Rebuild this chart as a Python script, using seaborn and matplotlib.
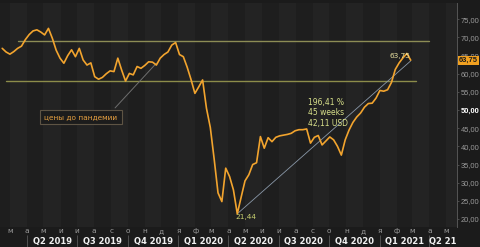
import numpy as np
import pandas as pd
import seaborn as sns
import matplotlib.pyplot as plt
import matplotlib.dates as mdates
import matplotlib.transforms as mtransforms

# weekly close
week_start = '2019-02-15'
prices = [67.0, 66.0, 65.4, 66.1, 67.0, 67.6, 69.4, 70.8, 71.8, 72.1,
          71.5, 70.7, 72.5, 69.8, 66.5, 64.3, 62.9, 65.0, 66.6, 64.7,
          67.0, 63.8, 62.4, 63.0, 59.2, 58.5, 59.0, 60.0, 60.8, 60.6,
          64.3, 61.0, 58.0, 60.1, 59.7, 62.0, 61.5, 62.3, 63.3, 63.2,
          62.4, 64.3, 65.3, 66.0, 67.9, 68.6, 65.3, 64.7, 61.8, 58.4,
          54.6, 56.4, 58.3, 50.5, 45.2, 36.5, 27.2, 24.8, 34.0, 31.7,
          28.0, 21.44, 26.0, 30.5, 32.2, 35.0, 35.5, 42.7, 39.5, 42.4,
          41.3, 42.5, 42.9, 43.1, 43.3, 43.6, 44.3, 44.6, 44.6, 44.8,
          40.9, 42.5, 43.0, 40.4, 41.5, 42.6, 41.8, 40.0, 37.6, 41.8,
          44.5, 46.6, 48.1, 49.2, 50.8, 51.8, 51.9, 53.3, 55.4, 55.2,
          55.6, 57.6, 61.2, 63.0, 64.4, 65.6, 63.75]

month_letters = ['м', 'а', 'м', 'и', 'и', 'а', 'с', 'о', 'н', 'д', 'я', 'ф',
                 'м', 'а', 'м', 'и', 'и', 'а', 'с', 'о', 'н', 'д', 'я', 'ф',
                 'м', 'а', 'м']
quarter_labels = ['Q2 2019', 'Q3 2019', 'Q4 2019', 'Q1 2020', 'Q2 2020',
                  'Q3 2020', 'Q4 2020', 'Q1 2021', 'Q2 21']

upper_level = 69.0   # верхняя линия
lower_level = 58.0   # цены до пандемии
low_price = 21.44
trend_end = 63.55
last_price = 63.75
y_ticks = [20, 25, 30, 35, 40, 45, 50, 55, 60, 65, 70, 75]

df = pd.DataFrame({'date': pd.date_range(week_start, periods=len(prices), freq='7D'),
                   'close': prices})

sns.set_theme(style='dark', rc={
    'figure.facecolor': '#1b1b1b',
    'axes.facecolor': '#232323',
    'axes.edgecolor': '#4a4a4a',
    'text.color': '#cfcfcf',
})
plt.rcParams['font.family'] = ['DejaVu Sans']

fig = plt.figure(figsize=(4.8, 2.47), dpi=100)
ax = fig.add_axes([0.0, 0.081, 0.952, 0.907])

x_left = pd.Timestamp('2019-02-11')
x_right = pd.Timestamp('2021-05-21')

# subtle vertical bands
months = pd.date_range('2019-02-01', '2021-06-01', freq='MS')
for i in range(len(months) - 1):
    if i % 2 == 0:
        ax.axvspan(months[i], months[i + 1], color='#1e1e1e', lw=0, zorder=0)

# horizontal levels
ax.plot([pd.Timestamp('2019-03-16'), pd.Timestamp('2021-04-01')], [upper_level] * 2,
        color='#8c8c55', lw=1.0, zorder=2)
ax.plot([pd.Timestamp('2019-02-22'), pd.Timestamp('2021-03-07')], [lower_level] * 2,
        color='#8c8c4a', lw=1.0, zorder=2)

# trend line from the low
low_date = df.loc[df['close'].idxmin(), 'date']
end_date = df['date'].iloc[-1]
ax.plot([low_date, end_date], [low_price, trend_end], color='#8a98a8', lw=0.6, zorder=2)

sns.lineplot(data=df, x='date', y='close', ax=ax, color='#f2a42e', lw=1.2, zorder=3)

# leader for the box
ax.plot([pd.Timestamp('2019-09-08'), pd.Timestamp('2019-11-22')], [50.6, 62.9],
        color='#6e6e6e', lw=0.7, zorder=2)
ax.text(pd.Timestamp('2019-07-08'), 48.1, 'цены до пандемии', fontsize=5.3,
        color='#e6a040', ha='center', va='center', zorder=4,
        bbox=dict(boxstyle='square,pad=0.6', fc='#1c1c1c', ec='#5e5444', lw=0.8))

ax.text(pd.Timestamp('2020-08-23'), 53.4, '196,41 %\n45 weeks\n42,11 USD',
        fontsize=5.5, color='#d8e08a', ha='left', va='top', linespacing=1.25, zorder=4)
ax.text(pd.Timestamp('2020-05-03'), 20.5, '21,44', fontsize=5.3, color='#c8d070',
        ha='center', va='center', zorder=4)
ax.text(pd.Timestamp('2021-02-07'), 64.8, '63,75', fontsize=5.3, color='#e8e0a0',
        ha='center', va='center', zorder=4)

ax.set_xlim(x_left, x_right)
ax.set_ylim(17.8, 79.5)
ax.set_xlabel('')
ax.set_ylabel('')

# right price axis
ax.yaxis.tick_right()
ax.set_yticks(y_ticks, labels=[f'{v:.2f}'.replace('.', ',') for v in y_ticks])
ax.tick_params(axis='y', length=1.5, width=0.6, color='#555555', pad=1,
               labelsize=5.4, labelcolor='#9a9a9a')
for lab, v in zip(ax.get_yticklabels(), y_ticks):
    lab.set_family('Liberation Sans')
    if v == 50:
        lab.set_color('#ffffff')
        lab.set_fontweight('bold')

ytrans = mtransforms.blended_transform_factory(ax.transAxes, ax.transData)
ax.text(1.004, last_price, '63,75', transform=ytrans, fontsize=5.4, color='#1a1a1a',
        family='Liberation Sans', fontweight='bold', ha='left', va='center',
        zorder=5, clip_on=False,
        bbox=dict(boxstyle='square,pad=0.15', fc='#f0a020', ec='none'))

# month letters
month_ticks = pd.date_range('2019-03-01', periods=len(month_letters), freq='MS')
ax.set_xticks(month_ticks, labels=month_letters)
ax.tick_params(axis='x', length=0, pad=1, labelsize=5.3, labelcolor='#9a9a9a')

for side in ['top', 'left', 'bottom']:
    ax.spines[side].set_visible(False)
ax.spines['right'].set_color('#555555')
ax.spines['right'].set_linewidth(0.7)

# quarter row
xtrans = mtransforms.blended_transform_factory(ax.transData, ax.transAxes)
q_starts = list(pd.date_range('2019-04-01', periods=len(quarter_labels), freq='QS'))
q_bounds = q_starts + [x_right]
for i, lab in enumerate(quarter_labels):
    mid = q_bounds[i] + (q_bounds[i + 1] - q_bounds[i]) / 2
    ax.text(mid, -0.063, lab, transform=xtrans, fontsize=6, fontweight='bold',
            color='#f0f0f0', ha='center', va='center', clip_on=False)
ax.vlines(q_starts, -0.09, -0.035, transform=xtrans, colors='#505050', lw=0.7,
          clip_on=False)
ax.axhline(0, color='#3a3a3a', lw=0.6)

fig.savefig('out.png', dpi=100, facecolor=fig.get_facecolor())
